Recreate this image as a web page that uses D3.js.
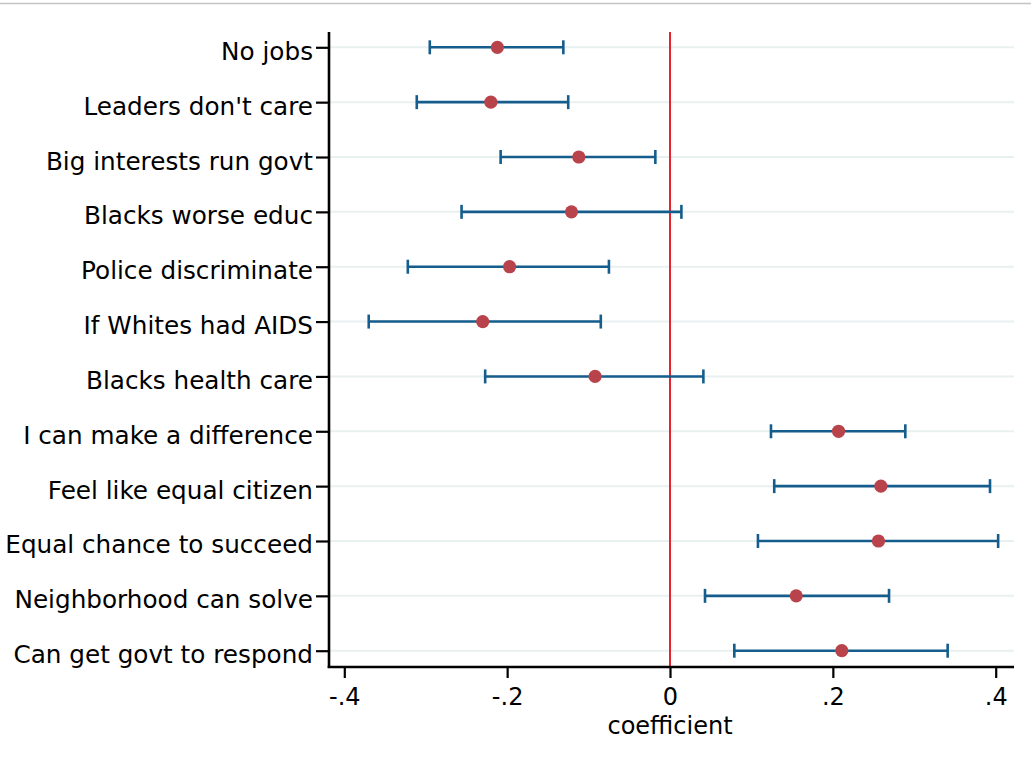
<!DOCTYPE html>
<html>
<head>
<meta charset="utf-8">
<script src="https://cdn.jsdelivr.net/npm/d3@7"></script>
<style>
  html, body { margin: 0; padding: 0; background: #fff; }
  svg { display: block; }
  text { font-family: "DejaVu Sans", sans-serif; fill: #000; }
</style>
</head>
<body>
<svg id="chart" width="1031" height="765"></svg>
<script>
// Survey items, top to bottom
const items = [
  "No jobs",
  "Leaders don't care",
  "Big interests run govt",
  "Blacks worse educ",
  "Police discriminate",
  "If Whites had AIDS",
  "Blacks health care",
  "I can make a difference",
  "Feel like equal citizen",
  "Equal chance to succeed",
  "Neighborhood can solve",
  "Can get govt to respond"
];
// Point estimates and 95% confidence bounds
const coef  = [-0.212, -0.220, -0.112, -0.121, -0.197, -0.230, -0.092, 0.207, 0.259, 0.256, 0.155, 0.211];
const lower = [-0.295, -0.311, -0.208, -0.256, -0.322, -0.370, -0.227, 0.124, 0.128, 0.108, 0.043, 0.079];
const upper = [-0.131, -0.125, -0.018, 0.014, -0.075, -0.085, 0.041, 0.289, 0.393, 0.403, 0.269, 0.341];
const xTicks = [-0.4, -0.2, 0, 0.2, 0.4];
const xTickLabels = ["-.4", "-.2", "0", ".2", ".4"];
const xTitle = "coefficient";

const rows = items.map((name, i) => ({ name, b: coef[i], lo: lower[i], hi: upper[i] }));

const svg = d3.select("#chart");
const plot = { left: 329, right: 1014, top: 32, bottom: 667 };

const x = d3.scaleLinear().domain([-0.4, 0.4]).range([344.3, 995.7]);
const y = d3.scalePoint().domain(items).range([47.3, 650.7]);

// thin rule across the top of the page
svg.append("line")
  .attr("x1", 0).attr("x2", 1031).attr("y1", 3.5).attr("y2", 3.5)
  .attr("stroke", "#c4c4c4").attr("stroke-width", 1.5);

// horizontal grid lines at each item
svg.append("g").selectAll("line").data(items).join("line")
  .attr("x1", plot.left).attr("x2", plot.right)
  .attr("y1", d => y(d)).attr("y2", d => y(d))
  .attr("stroke", "#e9f0f0").attr("stroke-width", 2);

// reference line at zero
svg.append("line")
  .attr("x1", x(0)).attr("x2", x(0))
  .attr("y1", plot.top).attr("y2", plot.bottom)
  .attr("stroke", "#e8222f").attr("stroke-width", 2);

// confidence intervals
const ci = svg.append("g").attr("stroke", "#155d8c").attr("stroke-width", 2.6).attr("fill", "none");
ci.selectAll("line.span").data(rows).join("line").attr("class", "span")
  .attr("x1", d => x(d.lo)).attr("x2", d => x(d.hi))
  .attr("y1", d => y(d.name)).attr("y2", d => y(d.name));
ci.selectAll("line.capl").data(rows).join("line").attr("class", "capl")
  .attr("x1", d => x(d.lo)).attr("x2", d => x(d.lo))
  .attr("y1", d => y(d.name) - 7).attr("y2", d => y(d.name) + 7);
ci.selectAll("line.caph").data(rows).join("line").attr("class", "caph")
  .attr("x1", d => x(d.hi)).attr("x2", d => x(d.hi))
  .attr("y1", d => y(d.name) - 7).attr("y2", d => y(d.name) + 7);

// point estimates
svg.append("g").selectAll("circle").data(rows).join("circle")
  .attr("cx", d => x(d.b)).attr("cy", d => y(d.name))
  .attr("r", 6.6).attr("fill", "#b9434b");

// y axis
const yAxis = d3.axisLeft(y).tickSize(13).tickPadding(3);
const gy = svg.append("g").attr("transform", `translate(${plot.left},0)`).call(yAxis);
gy.select(".domain").remove();
gy.selectAll(".tick line").attr("stroke", "#000").attr("stroke-width", 2.2);
gy.selectAll(".tick text").attr("font-size", 24.7).attr("dy", null).attr("y", 0)
  .attr("dominant-baseline", "alphabetic").attr("transform", "translate(0,12)");
svg.append("line")
  .attr("x1", plot.left).attr("x2", plot.left).attr("y1", plot.top).attr("y2", plot.bottom + 1)
  .attr("stroke", "#000").attr("stroke-width", 2.6);

// x axis
const xAxis = d3.axisBottom(x).tickValues(xTicks)
  .tickFormat((d, i) => xTickLabels[i]).tickSize(11).tickPadding(4);
const gx = svg.append("g").attr("transform", `translate(0,${plot.bottom})`).call(xAxis);
gx.select(".domain").remove();
gx.selectAll(".tick line").attr("stroke", "#000").attr("stroke-width", 2.2);
gx.selectAll(".tick text").attr("font-size", 24).attr("dy", null)
  .attr("y", 38).attr("dominant-baseline", "alphabetic");
svg.append("line")
  .attr("x1", plot.left - 1.3).attr("x2", plot.right).attr("y1", plot.bottom).attr("y2", plot.bottom)
  .attr("stroke", "#000").attr("stroke-width", 2.6);

// axis title
svg.append("text")
  .attr("x", x(0)).attr("y", 734)
  .attr("text-anchor", "middle").attr("font-size", 24)
  .text(xTitle);
</script>
</body>
</html>
